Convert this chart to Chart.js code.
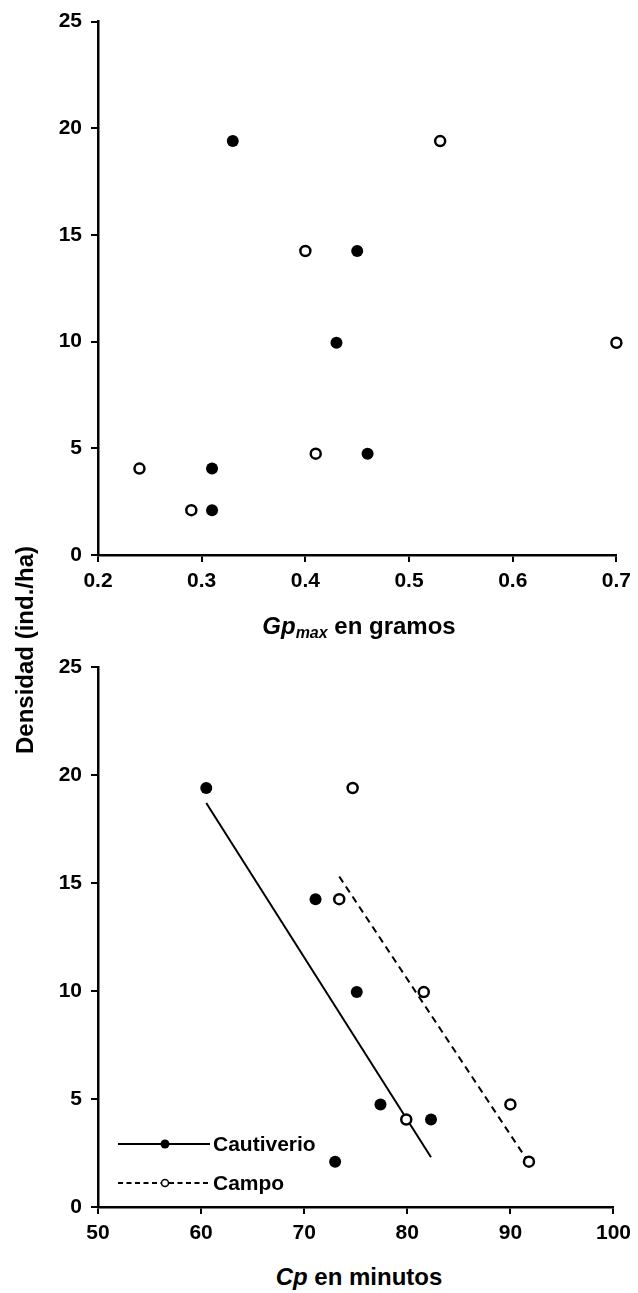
<!DOCTYPE html>
<html>
<head>
<meta charset="utf-8">
<script src="https://cdn.jsdelivr.net/npm/chart.js@4/dist/chart.umd.min.js"></script>
<style>
  html, body { margin: 0; padding: 0; background: #fff; }
  body { width: 638px; height: 1293px; position: relative; overflow: hidden; font-family: "Liberation Sans", Arial, sans-serif; }
  canvas { position: absolute; left: 0; }
  .title { position: absolute; font-weight: bold; color: #000; white-space: nowrap; font-size: 24px; line-height: 28px; }
  .title sub { font-size: 16px; vertical-align: -4px; line-height: 0; }
</style>
</head>
<body>
<canvas id="top" width="638" height="600" style="top:0px"></canvas>
<canvas id="bottom" width="638" height="640" style="top:610px"></canvas>
<div class="title" id="xt1" style="left:359px; top:612px; transform:translateX(-50%);"><i>Gp<sub>max</sub></i> en gramos</div>
<div class="title" id="xt2" style="left:359px; top:1263px; transform:translateX(-50%);"><i>Cp</i> en minutos</div>
<div class="title" id="yt" style="left:25px; top:650px; transform:translate(-50%,-50%) rotate(-90deg);">Densidad (ind./ha)</div>
<script>
// ---- Data ----
const seriesNames = ["Cautiverio", "Campo"];
const densidad = [19.4, 14.25, 9.95, 4.75, 4.05, 2.1];

// Top panel: Gp_max (g)
const gpCautiverio = [0.33, 0.45, 0.43, 0.46, 0.31, 0.31];
const gpCampo = [0.53, 0.40, 0.70, 0.41, 0.24, 0.29];

// Bottom panel: Cp (min)
const cpCautiverio = [60.5, 71.1, 75.1, 77.4, 82.3, 73.0];
const cpCampo = [74.7, 73.4, 81.6, 90.0, 79.9, 91.8];

// Trend lines (end points)
const trendCautiverioX = [60.5, 82.3];
const trendCautiverioY = [18.7, 2.3];
const trendCampoX = [73.4, 91.8];
const trendCampoY = [15.3, 2.05];

// Tick labels
const yTicks = [0, 5, 10, 15, 20, 25];
const xTicksTop = [0.2, 0.3, 0.4, 0.5, 0.6, 0.7];
const xTicksBottom = [50, 60, 70, 80, 90, 100];

// ---- Helpers ----
const pts = (xs, ys) => xs.map((x, i) => ({ x: x, y: ys[i] }));
const tickFont = { family: "'Liberation Sans', Arial, sans-serif", size: 21, weight: 'bold' };

function filledSet(label, data) {
  return { label, data, type: 'scatter', pointRadius: 6, pointHoverRadius: 6,
    backgroundColor: '#000', borderColor: '#000', borderWidth: 0, clip: false, order: 1 };
}
function openSet(label, data) {
  return { label, data, type: 'scatter', pointRadius: 5, pointHoverRadius: 5,
    backgroundColor: '#fff', borderColor: '#000', borderWidth: 2.5, clip: false, order: 0 };
}
function lineSet(label, data, dash) {
  return { label, data, type: 'line', showLine: true, pointRadius: 0, borderColor: '#000',
    borderWidth: 2, borderDash: dash, fill: false, tension: 0, clip: false, order: 2 };
}

function makeScales(xTicks, xMin, xMax, xFmt, yWidth, xHeight) {
  return {
    x: {
      type: 'linear', min: xMin, max: xMax,
      afterBuildTicks: s => { s.ticks = xTicks.map(v => ({ value: v })); },
      afterFit: s => { s.height = xHeight; },
      grid: { display: true, drawOnChartArea: false, drawTicks: true, tickLength: 7, color: '#000', lineWidth: 2 },
      border: { display: true, color: '#000', width: 2.5 },
      ticks: { font: tickFont, color: '#000', padding: 7, maxRotation: 0, autoSkip: false, callback: xFmt }
    },
    y: {
      type: 'linear', min: 0, max: 25,
      afterBuildTicks: s => { s.ticks = yTicks.map(v => ({ value: v })); },
      afterFit: s => { s.width = yWidth; },
      grid: { display: true, drawOnChartArea: false, drawTicks: true, tickLength: 7, color: '#000', lineWidth: 2 },
      border: { display: true, color: '#000', width: 2.5 },
      ticks: { font: tickFont, color: '#000', padding: 9, autoSkip: false, callback: v => String(v) }
    }
  };
}

const commonOpts = {
  responsive: false, animation: false, devicePixelRatio: 1,
  plugins: { legend: { display: false }, tooltip: { enabled: false } },
  events: []
};

// ---- Top chart ----
new Chart(document.getElementById('top'), {
  type: 'scatter',
  data: {
    datasets: [
      filledSet(seriesNames[0], pts(gpCautiverio, densidad)),
      openSet(seriesNames[1], pts(gpCampo, densidad))
    ]
  },
  options: Object.assign({}, commonOpts, {
    layout: { padding: { left: 0, top: 15, right: 18, bottom: 0 } },
    scales: makeScales(xTicksTop, 0.2, 0.7, v => Number(v).toFixed(1), 98, 45)
  })
});

// ---- Legend plugin for bottom chart ----
const lineLegend = {
  id: 'lineLegend',
  afterDatasetsDraw(chart) {
    const ctx = chart.ctx;
    const ca = chart.chartArea;
    const rows = [
      { label: seriesNames[0], dash: [], filled: true },
      { label: seriesNames[1], dash: [5, 3.5], filled: false }
    ];
    const x0 = ca.left + 20, x1 = ca.left + 112, xm = ca.left + 67;
    const ys = [ca.bottom - 63, ca.bottom - 24];
    ctx.save();
    rows.forEach((r, i) => {
      const y = ys[i];
      ctx.strokeStyle = '#000';
      ctx.lineWidth = 2;
      ctx.setLineDash(r.dash);
      ctx.beginPath(); ctx.moveTo(x0, y); ctx.lineTo(x1, y); ctx.stroke();
      ctx.setLineDash([]);
      ctx.beginPath();
      if (r.filled) {
        ctx.arc(xm, y, 4.5, 0, Math.PI * 2);
        ctx.fillStyle = '#000'; ctx.fill();
      } else {
        ctx.arc(xm, y, 3.5, 0, Math.PI * 2);
        ctx.fillStyle = '#fff'; ctx.fill();
        ctx.lineWidth = 1.5; ctx.stroke();
      }
      ctx.fillStyle = '#000';
      ctx.font = "bold 21px 'Liberation Sans', Arial, sans-serif";
      ctx.textAlign = 'left';
      ctx.textBaseline = 'middle';
      ctx.fillText(r.label, x1 + 3, y + 1);
    });
    ctx.restore();
  }
};

// ---- Bottom chart ----
new Chart(document.getElementById('bottom'), {
  type: 'scatter',
  data: {
    datasets: [
      lineSet(seriesNames[0] + ' tendencia', pts(trendCautiverioX, trendCautiverioY), []),
      lineSet(seriesNames[1] + ' tendencia', pts(trendCampoX, trendCampoY), [7, 5]),
      filledSet(seriesNames[0], pts(cpCautiverio, densidad)),
      openSet(seriesNames[1], pts(cpCampo, densidad))
    ]
  },
  options: Object.assign({}, commonOpts, {
    layout: { padding: { left: 0, top: 57, right: 19, bottom: 0 } },
    scales: makeScales(xTicksBottom, 50, 100, v => String(v), 98, 43)
  }),
  plugins: [lineLegend]
});
</script>
</body>
</html>
